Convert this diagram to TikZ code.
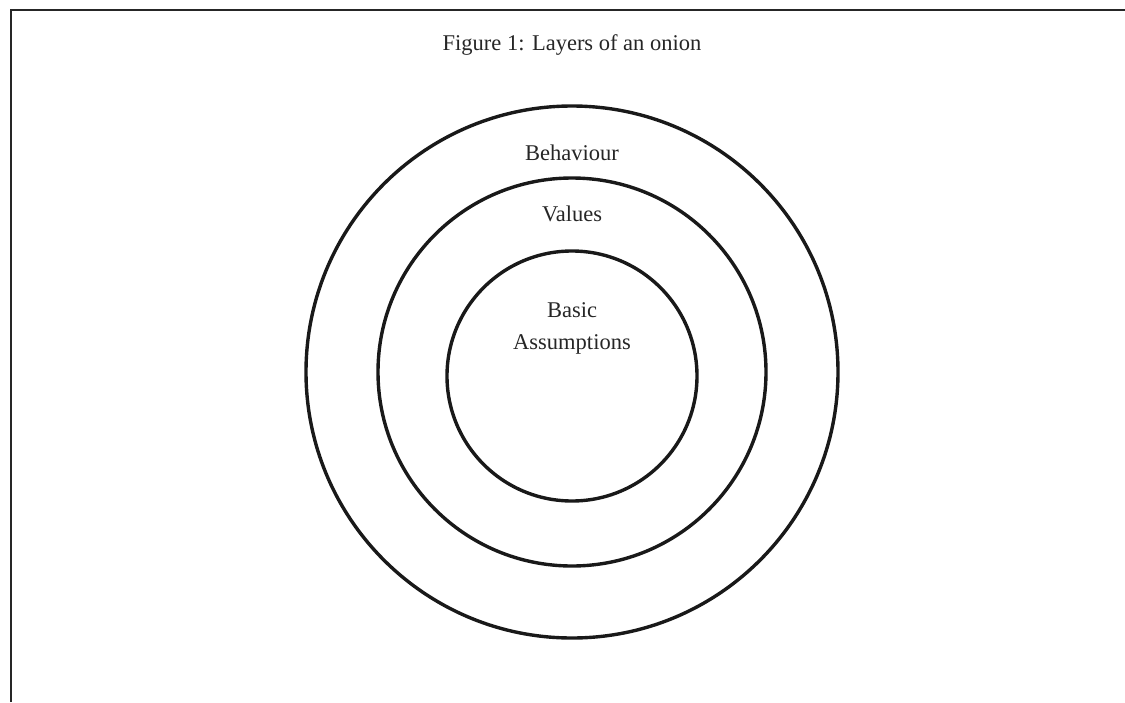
\documentclass[tikz,border=0pt]{standalone}
\usepackage{fontspec}
\setmainfont{Liberation Serif}
\usepackage{tikz}

\begin{document}
\begin{tikzpicture}[x = 1pt, y = -1pt,
    layer/.style = {circle, draw = black!90, line width = 3.4pt, inner sep = 0pt},
    label/.style = {font = \fontsize{22.5}{26}\selectfont, text = black!85, align = center}]
              \useasboundingbox (0, 0) rectangle (1125, 702);
              \draw [line width = 2.6pt, black!85] (11, 702) -- (11, 10) -- (1125, 10);
              \node [label] (title) at (572, 45) {Figure 1: Layers of an onion};
              \node [layer, minimum size = 532pt] (outer) at (572, 372) {};
              \node [layer, minimum size = 388pt] (middle) at (572, 372) {};
              \node [layer, minimum size = 250pt] (inner) at (572, 376) {};
              \node [label] (behaviour) at (572, 153) {Behaviour};
              \node [label] (values) at (572, 214) {Values};
              \node [label, font = \fontsize{22.5}{32}\selectfont] (basic) at (572, 328) {Basic\\Assumptions};
            \end{tikzpicture}
\end{document}
